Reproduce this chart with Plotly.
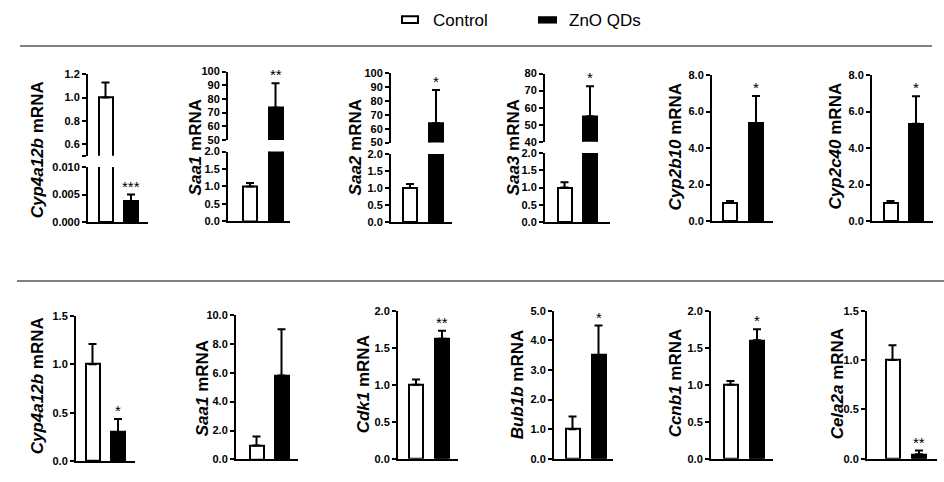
import plotly.graph_objects as go

W, H = 944, 482
FONT = "Liberation Sans, Arial, sans-serif"

# ---------------- data ----------------
series_names = ["Control", "ZnO QDs"]

genes_top = ["Cyp4a12b", "Saa1", "Saa2", "Saa3", "Cyp2b10", "Cyp2c40"]
control_top = [1.0, 1.0, 1.0, 1.0, 1.0, 1.0]
control_top_err = [0.13, 0.10, 0.12, 0.15, 0.10, 0.10]
zno_top = [0.0038, 73.5, 64.0, 55.0, 5.35, 5.33]
zno_top_err = [0.0012, 18.0, 24.0, 17.5, 1.5, 1.5]
sig_top = ["***", "**", "*", "*", "*", "*"]

genes_bottom = ["Cyp4a12b", "Saa1", "Cdk1", "Bub1b", "Ccnb1", "Cela2a"]
control_bottom = [1.0, 0.97, 1.0, 1.0, 1.0, 1.0]
control_bottom_err = [0.21, 0.62, 0.07, 0.43, 0.05, 0.15]
zno_bottom = [0.30, 5.8, 1.62, 3.5, 1.60, 0.045]
zno_bottom_err = [0.135, 3.2, 0.11, 1.0, 0.15, 0.038]
sig_bottom = ["*", "", "**", "*", "*", "**"]

# tick values / labels (lower or single segment, then upper segment for broken axes)
top_lower_ticks = [
    [0.0, 0.005, 0.010],
    [0.0, 0.5, 1.0, 1.5, 2.0],
    [0.0, 0.5, 1.0, 1.5, 2.0],
    [0.0, 0.5, 1.0, 1.5, 2.0],
    [0.0, 2.0, 4.0, 6.0, 8.0],
    [0.0, 2.0, 4.0, 6.0, 8.0],
]
top_lower_labels = [
    ["0.000", "0.005", "0.010"],
    ["0.0", "0.5", "1.0", "1.5", "2.0"],
    ["0.0", "0.5", "1.0", "1.5", "2.0"],
    ["0.0", "0.5", "1.0", "1.5", "2.0"],
    ["0.0", "2.0", "4.0", "6.0", "8.0"],
    ["0.0", "2.0", "4.0", "6.0", "8.0"],
]
top_upper_ticks = [
    [0.5, 0.6, 0.8, 1.0, 1.2],
    [50, 60, 70, 80, 90, 100],
    [50, 60, 70, 80, 90, 100],
    [40, 50, 60, 70, 80],
    None,
    None,
]
top_upper_labels = [
    ["", "0.6", "0.8", "1.0", "1.2"],
    ["50", "60", "70", "80", "90", "100"],
    ["50", "60", "70", "80", "90", "100"],
    ["40", "50", "60", "70", "80"],
    None,
    None,
]
bottom_ticks = [
    [0.0, 0.5, 1.0, 1.5],
    [0.0, 2.0, 4.0, 6.0, 8.0, 10.0],
    [0.0, 0.5, 1.0, 1.5, 2.0],
    [0.0, 1.0, 2.0, 3.0, 4.0, 5.0],
    [0.0, 0.5, 1.0, 1.5, 2.0],
    [0.0, 0.5, 1.0, 1.5],
]
bottom_labels = [
    ["0.0", "0.5", "1.0", "1.5"],
    ["0.0", "2.0", "4.0", "6.0", "8.0", "10.0"],
    ["0.0", "0.5", "1.0", "1.5", "2.0"],
    ["0.0", "1.0", "2.0", "3.0", "4.0", "5.0"],
    ["0.0", "0.5", "1.0", "1.5", "2.0"],
    ["0.0", "0.5", "1.0", "1.5"],
]

# ---------------- layout geometry (pixels) ----------------
# (axis x, control bar centre, ZnO bar centre, axis end)
top_geom_x = [(88, 105.5, 131, 148), (228, 250, 275.5, 290), (391, 410, 436, 452),
              (545, 564.5, 590, 610), (712, 730, 756, 773), (872, 890.5, 916, 933)]
bottom_geom_x = [(76, 92.5, 118, 135), (236, 256.5, 281.5, 298), (398, 416, 442, 458),
                 (554, 572.5, 598.5, 613), (711, 730.5, 757, 773), (867, 892.5, 919, 937)]
# lower (or single) segment: (top px, bottom px); upper segment: (top px, bottom px)
top_geom_lower = [(165, 221.7), (149.3, 220.7), (151.7, 221.7), (150.7, 221.7), (70.7, 220.7), (70.7, 220.7)]
top_geom_upper = [(70, 153.6), (67.3, 137.3), (69, 140), (69.3, 139.3), None, None]
bottom_geom_y = [(317.7, 466.7), (316.7, 465), (312.5, 464.3), (312.5, 464.3), (312.5, 464.3), (312.5, 464.3)]
top_title_pos = [(37, 148), (195, 145), (355, 145), (513, 145), (675, 144), (835, 144)]
bottom_title_pos = [(37, 390), (202, 392), (363, 388), (517, 388), (675, 387), (837, 387)]
BAR_PX = 14


def px_x(p):
    return p / W


def px_y(p):
    return 1 - p / H


fig = go.Figure()
layout = {}
annotations = []
counter = {"x": 0, "y": 0}


def next_axis(kind):
    counter[kind] += 1
    n = counter[kind]
    return (kind if n == 1 else f"{kind}{n}"), (f"{kind}axis" if n == 1 else f"{kind}axis{n}")


def yaxis_dict(dom, rng, tv, tt, anchor):
    return dict(
        domain=[px_y(dom[1]), px_y(dom[0])], range=rng, tickvals=tv, ticktext=tt,
        ticks="outside", ticklen=4, tickwidth=2, tickcolor="black",
        showline=True, linewidth=2, linecolor="black", showgrid=False, zeroline=False,
        tickfont=dict(family=FONT, size=11, color="black", weight="bold"),
        anchor=anchor, fixedrange=True,
    )


def add_panel(gx, lower_dom, lower_ticks, lower_labels, upper_dom, upper_ticks, upper_labels,
              vals, errs, gene, sig, title_pos):
    ax0, c0, c1, ax1 = gx
    s = c1 - c0
    xr = [-(c0 - ax0) / s, (ax1 - c0) / s]
    bw = BAR_PX / s
    xname, xkey = next_axis("x")
    yl_name, yl_key = next_axis("y")
    layout[xkey] = dict(domain=[px_x(ax0), px_x(ax1)], range=xr, showline=True, linewidth=2,
                        linecolor="black", ticks="", showticklabels=False, showgrid=False,
                        zeroline=False, anchor=yl_name, fixedrange=True)
    layout[yl_key] = yaxis_dict(lower_dom, [lower_ticks[0], lower_ticks[-1]], lower_ticks,
                                lower_labels, xname)
    yaxes = [yl_name]
    sig_axis = yl_name
    if upper_dom is not None:
        yu_name, yu_key = next_axis("y")
        layout[yu_key] = yaxis_dict(upper_dom, [upper_ticks[0], upper_ticks[-1]], upper_ticks,
                                    upper_labels, xname)
        yaxes.append(yu_name)
        if vals[1] + errs[1] > lower_ticks[-1]:
            sig_axis = yu_name
    for yn in yaxes:
        fig.add_trace(go.Bar(
            x=[0, 1], y=vals, width=bw, xaxis=xname, yaxis=yn,
            marker=dict(color=["white", "black"], line=dict(color="black", width=2)),
            error_y=dict(type="data", symmetric=False, array=errs, arrayminus=[0, 0],
                         color="black", thickness=2, width=4),
            showlegend=False, hoverinfo="skip",
        ))
    if sig:
        annotations.append(dict(
            x=1, y=vals[1] + errs[1], xref=xname, yref=sig_axis, text=sig, showarrow=False,
            yanchor="bottom", xanchor="center", yshift=-2,
            font=dict(family=FONT, size=15, color="black"),
        ))
    annotations.append(dict(
        x=px_x(title_pos[0]), y=px_y(title_pos[1]), xref="paper", yref="paper",
        text=f"<b><i>{gene}</i> mRNA</b>", textangle=-90, showarrow=False,
        xanchor="center", yanchor="middle", font=dict(family=FONT, size=17, color="black"),
    ))


for i in range(6):
    add_panel(top_geom_x[i], top_geom_lower[i], top_lower_ticks[i], top_lower_labels[i],
              top_geom_upper[i], top_upper_ticks[i], top_upper_labels[i],
              [control_top[i], zno_top[i]], [control_top_err[i], zno_top_err[i]],
              genes_top[i], sig_top[i], top_title_pos[i])

for i in range(6):
    add_panel(bottom_geom_x[i], bottom_geom_y[i], bottom_ticks[i], bottom_labels[i],
              None, None, None,
              [control_bottom[i], zno_bottom[i]], [control_bottom_err[i], zno_bottom_err[i]],
              genes_bottom[i], sig_bottom[i], bottom_title_pos[i])

# legend (drawn) and separators
shapes = [
    dict(type="rect", xref="paper", yref="paper", x0=px_x(402), x1=px_x(418), y0=px_y(17.5),
         y1=px_y(10.5), line=dict(color="black", width=2), fillcolor="white"),
    dict(type="rect", xref="paper", yref="paper", x0=px_x(538), x1=px_x(557), y0=px_y(18),
         y1=px_y(10.5), line=dict(color="black", width=0), fillcolor="black"),
    dict(type="line", xref="paper", yref="paper", x0=px_x(20), x1=px_x(932), y0=px_y(41),
         y1=px_y(41), line=dict(color="#808080", width=2)),
    dict(type="line", xref="paper", yref="paper", x0=px_x(17), x1=px_x(944), y0=px_y(282),
         y1=px_y(282), line=dict(color="#808080", width=2)),
]
for name, xp in zip(series_names, [431, 567]):
    annotations.append(dict(
        x=px_x(xp), y=px_y(14.5), xref="paper", yref="paper", text=name, showarrow=False,
        xanchor="left", yanchor="middle", font=dict(family=FONT, size=17, color="black"),
    ))

fig.update_layout(
    width=W, height=H, margin=dict(l=0, r=0, t=0, b=0),
    paper_bgcolor="white", plot_bgcolor="rgba(0,0,0,0)",
    showlegend=False, bargap=0, annotations=annotations, shapes=shapes,
    **layout,
)

fig.write_html(
    "out.html",
    config={"displayModeBar": False},
    post_script="document.body.style.margin='0';document.body.style.padding='0';"
                "document.body.style.overflow='hidden';",
)
